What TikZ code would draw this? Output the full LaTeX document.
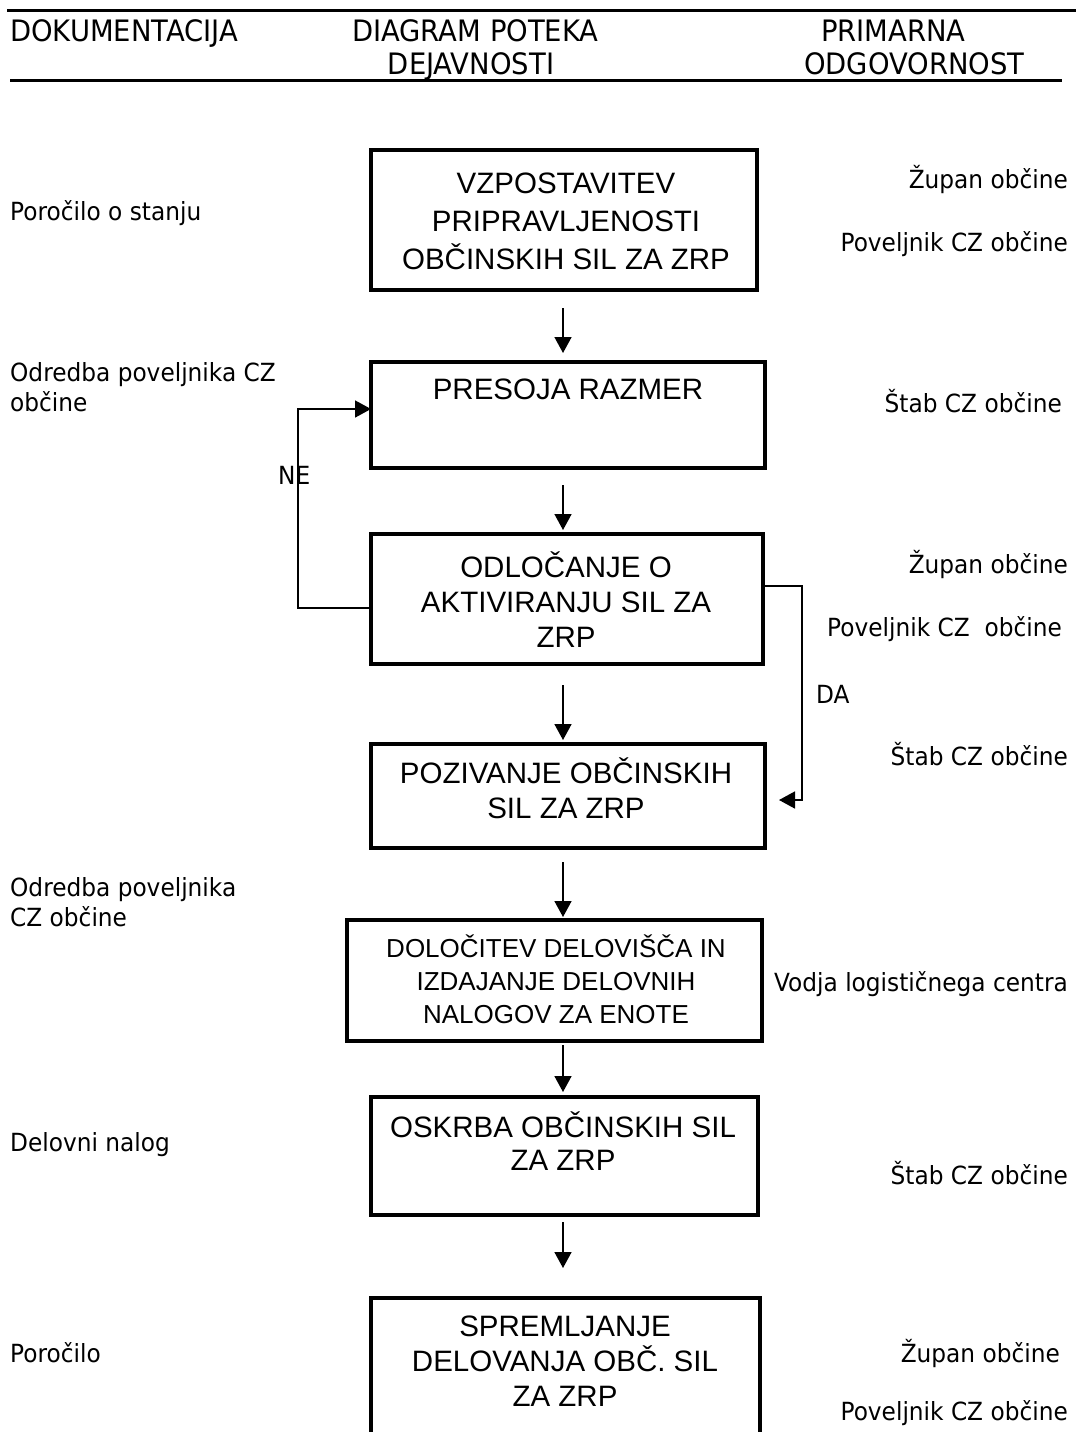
\documentclass[tikz,border=0pt]{standalone}
\usepackage{fontspec}
\setmainfont{Liberation Sans}
\newfontfamily\tah{DejaVu Sans}[FakeStretch=0.93]
\usetikzlibrary{arrows.meta}
\begin{document}
\begin{tikzpicture}[x=1pt,y=-1pt,
  box/.style={draw, line width=4pt, rectangle, inner sep=0pt, outer sep=0pt},
  btext/.style={font=\fontsize{29.5}{38}\selectfont, align=center, anchor=base, inner sep=0pt},
  side/.style={font=\tah\fontsize{25}{30}\selectfont, inner sep=0pt, align=left},
  head/.style={font=\tah\fontsize{29.5}{33}\selectfont, inner sep=0pt, anchor=base west},
  hline/.style={line width=2.6pt},
  conn/.style={line width=1.6pt},
  arr/.style={conn, -{Triangle[length=16pt,width=17pt]}}]
\useasboundingbox (0,0) rectangle (1076,1432);
\clip (0,0) rectangle (1076,1432);
% header
\draw[hline] (7,10.7) -- (1076,10.7);
\draw[hline] (10,80.7) -- (1062,80.7);
\node[head] (h1) at (10,41.7) {DOKUMENTACIJA};
\node[head] (h2) at (352,41.7) {DIAGRAM POTEKA};
\node[head, anchor=base] (h3) at (471,74) {DEJAVNOSTI};
\node[head] (h4) at (821,41.7) {PRIMARNA};
\node[head] (h5) at (804,74) {ODGOVORNOST};
% boxes
\node[box, minimum width=386pt, minimum height=140pt] (b1) at (564,220) {};
\node[box, minimum width=394pt, minimum height=106pt] (b2) at (568,415) {};
\node[box, minimum width=392pt, minimum height=130pt] (b3) at (567,599) {};
\node[box, minimum width=394pt, minimum height=104pt] (b4) at (568,796) {};
\node[box, minimum width=415pt, minimum height=121pt] (b5) at (554.5,980.5) {};
\node[box, minimum width=387pt, minimum height=118pt] (b6) at (564.5,1156) {};
\node[box, minimum width=389pt, minimum height=182pt] (b7) at (565.5,1389) {};
% box texts (anchor=base is the baseline of the last line)
\node[btext] (t1) at (566,269) {VZPOSTAVITEV\\PRIPRAVLJENOSTI\\OBČINSKIH SIL ZA ZRP};
\node[btext] (t2) at (568,399) {PRESOJA RAZMER};
\node[btext, font=\fontsize{29.5}{35}\selectfont] (t3) at (566,647) {ODLOČANJE O\\AKTIVIRANJU SIL ZA\\ZRP};
\node[btext, font=\fontsize{29.5}{35}\selectfont] (t4) at (566,818) {POZIVANJE OBČINSKIH\\SIL ZA ZRP};
\node[btext, font=\fontsize{26}{33}\selectfont] (t5) at (556,1023) {DOLOČITEV DELOVIŠČA IN\\IZDAJANJE DELOVNIH\\NALOGOV ZA ENOTE};
\node[btext, font=\fontsize{29.5}{33}\selectfont] (t6) at (563,1170) {OSKRBA OBČINSKIH SIL\\ZA ZRP};
\node[btext, font=\fontsize{29.5}{35}\selectfont] (t7) at (565,1406) {SPREMLJANJE\\DELOVANJA OBČ. SIL\\ZA ZRP};
% arrows
\coordinate (ax) at (563,0);
\draw[arr, shorten <=18pt, shorten >=9pt] (b1.south -| ax) -- (b2.north -| ax);
\draw[arr, shorten <=17pt, shorten >=4pt] (b2.south -| ax) -- (b3.north -| ax);
\draw[arr, shorten <=21pt, shorten >=4pt] (b3.south -| ax) -- (b4.north -| ax);
\draw[arr, shorten <=14pt, shorten >=3pt] (b4.south -| ax) -- (b5.north -| ax);
\draw[arr, shorten <=4pt, shorten >=5pt] (b5.south -| ax) -- (b6.north -| ax);
\draw[arr, shorten <=7pt, shorten >=30pt] (b6.south -| ax) -- (b7.north -| ax);
% NE loop
\coordinate (ne1) at (298,608);
\coordinate (ne2) at (298,409);
\draw[arr] (b3.west |- ne1) -- (ne1) -- (ne2) -- (b2.west |- ne2);
\node[side, anchor=base west] (lne) at (278,484) {NE};
% DA loop
\coordinate (da1) at (802,586);
\coordinate (da2) at (802,800);
\draw[arr, shorten >=14pt] (b3.east |- da1) -- (da1) -- (da2) -- (b4.east |- da2);
\node[side, anchor=base west] (lda) at (816,703) {DA};
% left column (anchor=base is the baseline of the last line)
\node[side, anchor=base west] (l1) at (10,220) {Poročilo o stanju};
\node[side, anchor=base west] (l2) at (10,411.7) {Odredba poveljnika CZ\\občine};
\node[side, anchor=base west] (l3) at (10,926) {Odredba poveljnika\\CZ občine};
\node[side, anchor=base west] (l4) at (10,1151) {Delovni nalog};
\node[side, anchor=base west] (l5) at (10,1362) {Poročilo};
% right column
\node[side, anchor=base east] (r1) at (1068,188) {Župan občine};
\node[side, anchor=base east] (r2) at (1068,251.7) {Poveljnik CZ občine};
\node[side, anchor=base east] (r3) at (1062,412) {Štab CZ občine};
\node[side, anchor=base east] (r4) at (1068,573) {Župan občine};
\node[side, anchor=base east] (r5) at (1062,636) {Poveljnik CZ\ \ občine};
\node[side, anchor=base east] (r6) at (1068,765) {Štab CZ občine};
\node[side, anchor=base east] (r7) at (1068,991) {Vodja logističnega centra};
\node[side, anchor=base east] (r8) at (1068,1184) {Štab CZ občine};
\node[side, anchor=base east] (r9) at (1060,1362) {Župan občine};
\node[side, anchor=base east] (r10) at (1068,1420) {Poveljnik CZ občine};
\end{tikzpicture}
\end{document}
